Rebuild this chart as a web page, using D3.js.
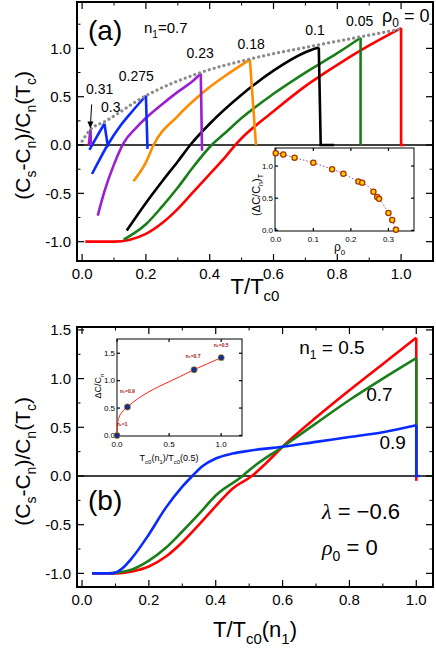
<!DOCTYPE html>
<html><head><meta charset="UTF-8">
<script src="https://cdn.jsdelivr.net/npm/d3@7"></script>
<style>body{margin:0;background:#fff}text{font-family:Arial,"Liberation Sans",sans-serif}</style>
</head><body><svg id="c" width="436" height="654"></svg>
<script>
// panel (a): n1 = 0.7, various rho0
const curvesA = [
  {rho:"0", color:"#ff0000", pts:[[0.01,-1],[0.1,-1],[0.15,-0.98],[0.2,-0.92],[0.25,-0.81],[0.3,-0.66],[0.35,-0.48],[0.4,-0.3],[0.45,-0.12],[0.48,0],[0.5,0.07],[0.6,0.35],[0.7,0.61],[0.8,0.83],[0.9,1.03],[1.0,1.21]], drop:[[1.0,1.21],[1.0,0],[1.01,0]]},
  {rho:"0.05", color:"#1a7f1a", pts:[[0.13,-0.98],[0.2,-0.82],[0.25,-0.64],[0.3,-0.44],[0.35,-0.22],[0.406,0],[0.45,0.13],[0.5,0.28],[0.6,0.53],[0.7,0.75],[0.8,0.95],[0.873,1.11]], drop:[[0.873,1.11],[0.873,0]]},
  {rho:"0.1", color:"#000000", pts:[[0.14,-0.885],[0.2,-0.6],[0.25,-0.38],[0.3,-0.17],[0.339,0],[0.4,0.22],[0.5,0.52],[0.6,0.77],[0.7,0.96],[0.731,1.0],[0.742,1.01]], drop:[[0.742,1.01],[0.748,0],[0.79,0]]},
  {rho:"0.18", color:"#ff8c00", pts:[[0.161,-0.375],[0.2,-0.18],[0.224,0],[0.3,0.3],[0.35,0.46],[0.4,0.6],[0.45,0.72],[0.5,0.83],[0.526,0.885]], drop:[[0.526,0.885],[0.545,0]]},
  {rho:"0.23", color:"#9b1fd0", pts:[[0.049,-0.73],[0.07,-0.48],[0.1,-0.2],[0.13,0.02],[0.17,0.18],[0.2,0.28],[0.25,0.42],[0.3,0.55],[0.35,0.67],[0.372,0.74]], drop:[[0.372,0.74],[0.376,-0.06]]},
  {rho:"0.275", color:"#0a2bff", pts:[[0.031,-0.3],[0.05,-0.18],[0.08,0],[0.12,0.2],[0.16,0.36],[0.2,0.51]], drop:[[0.2,0.51],[0.205,-0.04]]},
  {rho:"0.3", color:"#0a2bff", pts:[[0.023,-0.05],[0.045,0.08],[0.07,0.22]], drop:[[0.07,0.22],[0.081,-0.02]]},
  {rho:"0.31", color:"#9b1fd0", pts:[[0.021,0.0],[0.026,0.16]], drop:[[0.026,0.16],[0.028,0.0]]}
];
const envelopeA = [[0,0.04],[0.026,0.16],[0.07,0.24],[0.2,0.51],[0.372,0.75],[0.526,0.89],[0.731,1.03],[0.873,1.12],[1.0,1.2]];
const labelsA = [["0.31",0.055,0.53],["0.3",0.09,0.34],["0.275",0.17,0.66],["0.23",0.37,0.9],["0.18",0.53,0.99],["0.1",0.73,1.14],["0.05",0.87,1.23]];
// inset (a)
const insetRho = [0,0.02,0.05,0.1,0.15,0.18,0.22,0.23,0.26,0.27,0.275,0.3,0.31,0.32];
const insetDC  = [1.2,1.18,1.13,1.05,0.95,0.88,0.76,0.74,0.6,0.52,0.49,0.27,0.16,0.01];
// panel (b): rho0 = 0, lambda = -0.6
const curvesB = [
  {n:"0.5", color:"#ff0000", pts:[[0.03,-1],[0.1,-1],[0.15,-0.98],[0.2,-0.93],[0.25,-0.83],[0.3,-0.68],[0.35,-0.5],[0.4,-0.31],[0.45,-0.13],[0.508,0],[0.55,0.13],[0.6,0.3],[0.7,0.6],[0.8,0.88],[0.9,1.15],[1.0,1.42]], drop:[[1.0,1.42],[1.0,-0.05]]},
  {n:"0.7", color:"#1a7f1a", pts:[[0.08,-1],[0.15,-0.96],[0.2,-0.87],[0.25,-0.74],[0.3,-0.57],[0.35,-0.39],[0.4,-0.2],[0.48,0],[0.5,0.06],[0.6,0.3],[0.7,0.54],[0.8,0.78],[0.9,1.0],[1.0,1.21]], drop:[[1.0,1.21],[1.0,0]]},
  {n:"0.9", color:"#0a2bff", pts:[[0.03,-1],[0.09,-1],[0.12,-0.95],[0.15,-0.84],[0.2,-0.6],[0.25,-0.33],[0.3,-0.11],[0.33,0],[0.36,0.1],[0.4,0.18],[0.45,0.23],[0.5,0.26],[0.6,0.3],[0.7,0.35],[0.8,0.4],[0.9,0.45],[1.0,0.52]], drop:[[1.0,0.52],[1.0,0],[1.01,0]]}
];
const labelsB = [["n₁ = 0.5",0.65,1.25],["0.7",0.85,0.77],["0.9",0.89,0.28]];
// inset (b)
const insetTc = [0,0.1,0.74,1.0];
const insetDCb = [0,0.52,1.2,1.42];
const insetFit = [[0,0],[0.005,0.2],[0.02,0.33],[0.05,0.43],[0.1,0.52],[0.2,0.67],[0.3,0.79],[0.4,0.89],[0.5,0.98],[0.6,1.07],[0.74,1.2],[0.87,1.31],[1.0,1.42]];
const insetLabB = [["n₁=1",0.05,0.17],["n₁=0.9",0.1,0.78],["n₁=0.7",0.73,1.42],["n₁=0.5",1.0,1.62]];

const svg = d3.select("#c");
const line = (x,y)=>d3.line().x(d=>x(d[0])).y(d=>y(d[1]));
const smooth = (x,y)=>line(x,y).curve(d3.curveMonotoneX);

function frame(g,x,y,xt,yt,fs,len,minor){
  const [x0,x1]=x.range(), [y0,y1]=y.range();
  xt.forEach(v=>{[y0,y1].forEach((yy,i)=>g.append("line").attr("x1",x(v)).attr("x2",x(v)).attr("y1",yy).attr("y2",i?yy+len:yy-len).attr("stroke","#000").attr("stroke-width",1.2));});
  minor[0].forEach(v=>{[y0,y1].forEach((yy,i)=>g.append("line").attr("x1",x(v)).attr("x2",x(v)).attr("y1",yy).attr("y2",i?yy+len/2:yy-len/2).attr("stroke","#000"));});
  yt.forEach(v=>{[x0,x1].forEach((xx,i)=>g.append("line").attr("y1",y(v)).attr("y2",y(v)).attr("x1",xx).attr("x2",i?xx-len:xx+len).attr("stroke","#000").attr("stroke-width",1.2));});
  minor[1].forEach(v=>{[x0,x1].forEach((xx,i)=>g.append("line").attr("y1",y(v)).attr("y2",y(v)).attr("x1",xx).attr("x2",i?xx-len/2:xx+len/2).attr("stroke","#000"));});
  g.append("rect").attr("x",x0).attr("y",y1).attr("width",x1-x0).attr("height",y0-y1).attr("fill","none").attr("stroke","#000").attr("stroke-width",fs>10?2:1);
  xt.forEach(v=>g.append("text").attr("x",x(v)).attr("y",y0+fs+3).attr("text-anchor","middle").attr("font-size",fs).text(v.toFixed(1)));
  yt.forEach(v=>g.append("text").attr("x",x0-(fs>10?6:2)).attr("y",y(v)+fs*0.35).attr("text-anchor","end").attr("font-size",fs).text(v.toFixed(1)));
}
const rng=(a,b,s)=>d3.range(a,b+1e-9,s).map(v=>+v.toFixed(3));
function drawCurve(g,x,y,c){
  g.append("path").attr("d",smooth(x,y)(c.pts)).attr("fill","none").attr("stroke",c.color).attr("stroke-width",2.6);
  g.append("path").attr("d",line(x,y)(c.drop)).attr("fill","none").attr("stroke",c.color).attr("stroke-width",2.6);
}

// ---------- panel (a)
const xa=d3.scaleLinear().domain([-0.016,1.1]).range([77,433]);
const ya=d3.scaleLinear().domain([-1.2,1.48]).range([261,2]);
const ga=svg.append("g");
ga.append("line").attr("x1",77).attr("x2",433).attr("y1",ya(0)).attr("y2",ya(0)).attr("stroke","#000").attr("stroke-width",1.5);
frame(ga,xa,ya,rng(0,1,0.2),rng(-1,1,0.5),15,7,[rng(0.1,1.1,0.2),rng(-0.75,1.25,0.5)]);
curvesA.forEach(c=>drawCurve(ga,xa,ya,c));
ga.append("path").attr("d",smooth(xa,ya)(envelopeA)).attr("fill","none").attr("stroke","#8c8c8c").attr("stroke-width",3.2).attr("stroke-dasharray","0.1 5").attr("stroke-linecap","round");
labelsA.forEach(l=>ga.append("text").attr("x",xa(l[1])).attr("y",ya(l[2])).attr("text-anchor","middle").attr("font-size",14).text(l[0]));
ga.append("line").attr("x1",xa(0.03)).attr("y1",ya(0.42)).attr("x2",xa(0.026)).attr("y2",ya(0.2)).attr("stroke","#000");
ga.append("path").attr("d",`M${xa(0.026)},${ya(0.17)} l-3,-7 l6,0 z`).attr("fill","#000");
ga.append("text").attr("x",382).attr("y",22).attr("font-size",18).html('ρ<tspan font-size="12" dy="5">0</tspan><tspan dy="-5"> = 0</tspan>');
ga.append("text").attr("x",88).attr("y",40).attr("font-size",28).text("(a)");
ga.append("text").attr("x",144).attr("y",33).attr("font-size",15).html('n<tspan font-size="10" dy="5">1</tspan><tspan dy="-5">=0.7</tspan>');
ga.append("text").attr("x",255).attr("y",294).attr("text-anchor","middle").attr("font-size",22).html('T/T<tspan font-size="15" dy="7">c0</tspan>');
ga.append("text").attr("transform",`translate(30,${ya(0.1)}) rotate(-90)`).attr("text-anchor","middle").attr("font-size",21)
  .html('(C<tspan font-size="14" dy="6">s</tspan><tspan dy="-6">-C</tspan><tspan font-size="14" dy="6">n</tspan><tspan dy="-6">)/C</tspan><tspan font-size="14" dy="6">n</tspan><tspan dy="-6">(T</tspan><tspan font-size="14" dy="6">c</tspan><tspan dy="-6">)</tspan>');

// inset (a)
const xia=d3.scaleLinear().domain([-0.002,0.368]).range([275,414]);
const yia=d3.scaleLinear().domain([-0.01,1.28]).range([231,148]);
const gia=svg.append("g");
gia.append("rect").attr("x",275).attr("y",148).attr("width",139).attr("height",83).attr("fill","#fff");
frame(gia,xia,yia,rng(0,0.3,0.1),rng(0,1,0.5),8,3,[[],[]]);
gia.append("path").attr("d",smooth(xia,yia)(insetRho.map((r,i)=>[r,insetDC[i]]))).attr("fill","none").attr("stroke","#a040a0").attr("stroke-dasharray","1.5 2");
gia.selectAll("circle").data(insetRho).join("circle").attr("cx",d=>xia(d)).attr("cy",(d,i)=>yia(insetDC[i])).attr("r",2.6).attr("fill","#f5d000").attr("stroke","#b03000").attr("stroke-width",1.3);
gia.append("text").attr("x",xia(0.17)).attr("y",251).attr("text-anchor","middle").attr("font-size",12).html('ρ<tspan font-size="8" dy="4">0</tspan>');
gia.append("text").attr("transform",`translate(260,${yia(0.55)}) rotate(-90)`).attr("text-anchor","middle").attr("font-size",11)
  .html('(ΔC/C<tspan font-size="7" dy="3">n</tspan><tspan dy="-3">)</tspan><tspan font-size="7" dy="3">T</tspan>');

// ---------- panel (b)
const xb=d3.scaleLinear().domain([-0.015,1.05]).range([77,433]);
const yb=d3.scaleLinear().domain([-1.14,1.53]).range([587,327]);
const gb=svg.append("g");
gb.append("line").attr("x1",77).attr("x2",433).attr("y1",yb(0)).attr("y2",yb(0)).attr("stroke","#000").attr("stroke-width",1.5);
frame(gb,xb,yb,rng(0,1,0.2),rng(-1,1.5,0.5),15,7,[rng(0.1,0.9,0.2),rng(-0.75,1.25,0.5)]);
curvesB.forEach(c=>drawCurve(gb,xb,yb,c));
labelsB.forEach((l,i)=>gb.append("text").attr("x",xb(l[1])).attr("y",yb(l[2])).attr("font-size",19)
  .html(i?l[0]:'n<tspan font-size="12" dy="5">1</tspan><tspan dy="-5"> = 0.5</tspan>'));
gb.append("text").attr("x",88).attr("y",510).attr("font-size",28).text("(b)");
gb.append("text").attr("x",322).attr("y",519).attr("font-size",22).html('<tspan font-style="italic" font-family="Liberation Serif,serif">λ</tspan> = −0.6');
gb.append("text").attr("x",322).attr("y",555).attr("font-size",22).html('<tspan font-style="italic" font-family="Liberation Serif,serif">ρ</tspan><tspan font-size="14" dy="6">0</tspan><tspan dy="-6"> = 0</tspan>');
gb.append("text").attr("x",255).attr("y",637).attr("text-anchor","middle").attr("font-size",22).html('T/T<tspan font-size="15" dy="7">c0</tspan><tspan dy="-7">(n</tspan><tspan font-size="15" dy="7">1</tspan><tspan dy="-7">)</tspan>');
gb.append("text").attr("transform",`translate(30,${yb(0.15)}) rotate(-90)`).attr("text-anchor","middle").attr("font-size",21)
  .html('(C<tspan font-size="14" dy="6">s</tspan><tspan dy="-6">-C</tspan><tspan font-size="14" dy="6">n</tspan><tspan dy="-6">)/C</tspan><tspan font-size="14" dy="6">n</tspan><tspan dy="-6">(T</tspan><tspan font-size="14" dy="6">c</tspan><tspan dy="-6">)</tspan>');

// inset (b)
const xib=d3.scaleLinear().domain([0,1.2]).range([117,242]);
const yib=d3.scaleLinear().domain([-0.01,1.76]).range([436,339]);
const gib=svg.append("g");
frame(gib,xib,yib,rng(0,1,0.5),rng(0,1.5,0.5),8,3,[[],[]]);
gib.append("path").attr("d",smooth(xib,yib)(insetFit)).attr("fill","none").attr("stroke","#ff2020").attr("stroke-width",1);
gib.selectAll("circle").data(insetTc).join("circle").attr("cx",d=>xib(d)).attr("cy",(d,i)=>yib(insetDCb[i])).attr("r",3.2).attr("fill","#1a2a90").attr("stroke","#d8c000").attr("stroke-width",0.6);
insetLabB.forEach(l=>gib.append("text").attr("x",xib(l[1])).attr("y",yib(l[2])).attr("text-anchor","middle").attr("font-size",5).attr("font-weight","bold").attr("fill","#a01010").text(l[0]));
gib.append("text").attr("x",xib(0.5)).attr("y",461).attr("text-anchor","middle").attr("font-size",9).html('T<tspan font-size="6" dy="3">c0</tspan><tspan dy="-3">(n</tspan><tspan font-size="6" dy="3">1</tspan><tspan dy="-3">)/T</tspan><tspan font-size="6" dy="3">c0</tspan><tspan dy="-3">(0.5)</tspan>');
gib.append("text").attr("transform",`translate(101,${yib(0.9)}) rotate(-90)`).attr("text-anchor","middle").attr("font-size",9).html('ΔC/C<tspan font-size="6" dy="3">n</tspan>');
</script></body></html>
